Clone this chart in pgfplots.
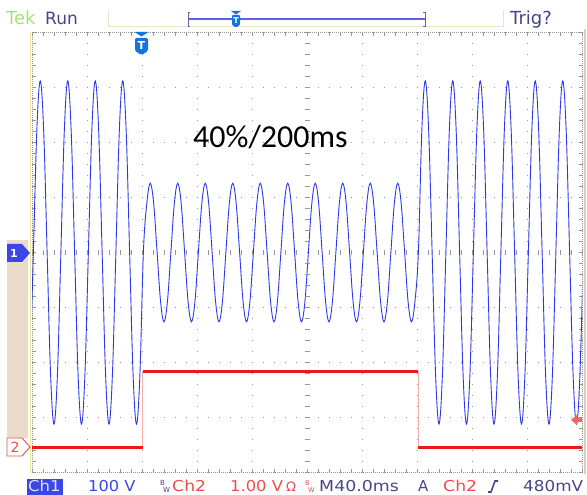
\documentclass[border=0pt]{standalone}
\usepackage{fontspec}
\setmainfont{DejaVu Sans}
\newfontfamily\carlito{Carlito}
\usepackage{pgfplots}
\pgfplotsset{compat=1.18}
\usepackage{pgfplotstable}
\definecolor{tekgreen}{RGB}{165,228,110}
\definecolor{tekslate}{RGB}{70,70,135}
\definecolor{trace1}{RGB}{45,55,235}
\definecolor{trace2}{RGB}{235,25,25}
\definecolor{ch2red}{RGB}{240,75,75}
\definecolor{ch1blue}{RGB}{60,70,230}
\definecolor{tekbeige}{RGB}{238,228,200}
\definecolor{tektan}{RGB}{235,220,202}
\definecolor{markblue}{RGB}{20,115,225}
\definecolor{gridgray}{RGB}{150,150,150}
\definecolor{barblue}{RGB}{95,95,225}

\pgfplotstableread{
t v
-1.5 -221
1 0
3.5 221
6 312
8.5 221
11 0
13.5 -221
16 -312
18.5 -221
21 0
23.5 221
26 312
28.5 221
31 0
33.5 -221
36 -312
38.5 -221
41 0
43.5 221
46 312
48.5 221
51 0
53.5 -221
56 -312
58.5 -221
61 0
63.5 221
66 312
68.5 221
71 0
73.5 -221
76 -312
78.5 -221
81 0
83.5 89
86 126
88.5 89
91 0
93.5 -89
96 -126
98.5 -89
101 0
103.5 89
106 126
108.5 89
111 0
113.5 -89
116 -126
118.5 -89
121 0
123.5 89
126 126
128.5 89
131 0
133.5 -89
136 -126
138.5 -89
141 0
143.5 89
146 126
148.5 89
151 0
153.5 -89
156 -126
158.5 -89
161 0
163.5 89
166 126
168.5 89
171 0
173.5 -89
176 -126
178.5 -89
181 0
183.5 89
186 126
188.5 89
191 0
193.5 -89
196 -126
198.5 -89
201 0
203.5 89
206 126
208.5 89
211 0
213.5 -89
216 -126
218.5 -89
221 0
223.5 89
226 126
228.5 89
231 0
233.5 -89
236 -126
238.5 -89
241 0
243.5 89
246 126
248.5 89
251 0
253.5 -89
256 -126
258.5 -89
261 0
263.5 89
266 126
268.5 89
271 0
273.5 -89
276 -126
278.5 -89
281 0
283.5 221
286 312
288.5 221
291 0
293.5 -221
296 -312
298.5 -221
301 0
303.5 221
306 312
308.5 221
311 0
313.5 -221
316 -312
318.5 -221
321 0
323.5 221
326 312
328.5 221
331 0
333.5 -221
336 -312
338.5 -221
341 0
343.5 221
346 312
348.5 221
351 0
353.5 -221
356 -312
358.5 -221
361 0
363.5 221
366 312
368.5 221
371 0
373.5 -221
376 -312
378.5 -221
381 0
383.5 221
386 312
388.5 221
391 0
393.5 -221
396 -312
398.5 -221
401 0
}\chone

\begin{document}
\begin{tikzpicture}[x=1pt,y=1pt]
\path[use as bounding box] (0,0) rectangle (587,495);

% ---------- main graticule and traces ----------
\begin{axis}[
  at={(32pt,22.5pt)}, anchor=south west, scale only axis,
  width=550pt, height=440pt,
  xmin=0, xmax=400, ymin=-400, ymax=400,
  xtick={0,40,...,400}, ytick={-400,-300,...,400},
  minor x tick num=4, minor y tick num=4,
  xticklabels={}, yticklabels={},
  tick align=inside, major tick length=3.5pt, minor tick length=3.5pt,
  every tick/.style={gridgray, line width=0.6pt},
  grid=major,
  major grid style={gridgray, line width=1pt, dash pattern=on 1pt off 10pt, dash phase=0.5pt},
  axis line style={gridgray, dash pattern=on 1pt off 1pt},
]
\addplot[trace1, line width=0.9pt, smooth, tension=0.6, no markers] table[x=t,y=v] {\chone};
\addplot[trace2!35, line width=0.7pt, no markers] coordinates {(80.6,-354) (80.6,-216)};
\addplot[trace2!35, line width=0.7pt, no markers] coordinates {(281,-216) (281,-354)};
\addplot[trace2, line width=3pt, no markers] coordinates {(0,-354) (80.6,-354)};
\addplot[trace2, line width=3pt, no markers] coordinates {(80.6,-216) (281,-216)};
\addplot[trace2, line width=3pt, no markers] coordinates {(281,-354) (400,-354)};
\end{axis}

% ---------- centre crosshair ticks ----------
\begin{axis}[
  at={(32pt,22.5pt)}, anchor=south west, scale only axis,
  width=550pt, height=440pt,
  xmin=-200, xmax=200, ymin=-400, ymax=400,
  axis lines=middle, axis line style={draw=none, -},
  xtick={-200,-160,...,200}, ytick={-400,-300,...,400},
  minor x tick num=4, minor y tick num=4,
  xticklabels={}, yticklabels={},
  tick align=center, major tick length=5pt, minor tick length=5pt,
  every tick/.style={gridgray, line width=0.6pt},
]
\end{axis}

% ---------- frame borders ----------
\draw[tekbeige!80!yellow, line width=1pt] (30.5,22) -- (30.5,463);
\draw[tektan!85!gray, line width=2pt] (584.5,21) -- (584.5,466);

% ---------- top bar ----------
\node[anchor=base west, inner sep=0, text=tekgreen, font=\fontsize{18}{18}\selectfont] at (6,470) {Tek};
\node[anchor=base west, inner sep=0, text=tekslate, font=\fontsize{17}{17}\selectfont] at (45,470) {Run};
\draw[tekbeige, line width=1pt] (108,485) -- (108,468) -- (503,468) -- (503,485);
\draw[barblue, line width=1.3pt] (188,476) -- (425,476);
\draw[gray!80!blue, line width=0.8pt] (190,483) -- (188,483) -- (188,469) -- (190,469);
\draw[gray!80!blue, line width=0.8pt] (423,483) -- (425,483) -- (425,469) -- (423,469);
\fill[markblue] (231,484) -- (241,484) -- (236,480.5) -- cycle;
\fill[markblue, rounded corners=1pt] (232,480) -- (240,480) -- (240,470) -- (236,467.5) -- (232,470) -- cycle;
\node[text=white, inner sep=0, font=\bfseries\fontsize{8}{8}\selectfont] at (236,474) {T};
\node[anchor=base west, inner sep=0, text=tekslate, font=\fontsize{18}{18}\selectfont] at (510,470) {Trig?};

% ---------- trigger position marker ----------
\fill[markblue] (134.5,463) -- (148.5,463) -- (141.5,458.5) -- cycle;
\fill[markblue, rounded corners=1.5pt] (135,457) -- (148,457) -- (148,444) -- (141.5,440) -- (135,444) -- cycle;
\node[text=white, inner sep=0, font=\bfseries\fontsize{11}{11}\selectfont] at (141.5,449.5) {T};

% ---------- channel markers ----------
\fill[tektan] (7,57) rectangle (28,255);
\fill[ch1blue] (7,251) -- (22,251) -- (30,242) -- (22,233) -- (7,233) -- cycle;
\node[text=white, inner sep=0, font=\bfseries\fontsize{11}{11}\selectfont] at (14,242) {1};
\filldraw[fill=white, draw=ch2red, line width=0.9pt] (7,57) -- (22,57) -- (30,48) -- (22,39) -- (7,39) -- cycle;
\node[text=ch2red, inner sep=0, font=\fontsize{14}{14}\selectfont] at (15,48) {2};

% ---------- trigger level arrow ----------
\fill[ch2red!85] (571,75) -- (577,80) -- (577,77) -- (582,77) -- (582,73) -- (577,73) -- (577,70) -- cycle;

% ---------- annotation ----------
\node[anchor=base west, inner sep=0, font=\carlito\fontsize{32}{32}\selectfont] at (193,347) {40\%/200ms};

% ---------- bottom bar ----------
\fill[ch1blue] (27,0) rectangle (63,16);
\node[anchor=base west, inner sep=0, text=white!88!blue, xscale=1.1, font=\fontsize{15}{15}\selectfont] at (28,3) {Ch1};
\node[anchor=base west, inner sep=0, text=ch1blue, xscale=1.08, font=\fontsize{15}{15}\selectfont] at (88,3) {100 V};
\node[anchor=base west, inner sep=0, text=tekslate, font=\fontsize{7}{7}\selectfont] at (160,9) {B};
\node[anchor=base west, inner sep=0, text=tekslate, font=\fontsize{7}{7}\selectfont] at (163,2) {W};
\node[anchor=base west, inner sep=0, text=ch2red, xscale=1.15, font=\fontsize{15}{15}\selectfont] at (172,3) {Ch2};
\node[anchor=base west, inner sep=0, text=ch2red, xscale=1.09, font=\fontsize{15}{15}\selectfont] at (230,3) {1.00 V};
\node[anchor=base west, inner sep=0, text=ch2red, font=\fontsize{13}{13}\selectfont] at (286,3) {Ω};
\node[anchor=base west, inner sep=0, text=ch2red, font=\fontsize{6.5}{6.5}\selectfont] at (305,9) {B};
\node[anchor=base west, inner sep=0, text=ch2red, font=\fontsize{6.5}{6.5}\selectfont] at (308,2) {W};
\node[anchor=base west, inner sep=0, text=tekslate, xscale=1.16, font=\fontsize{15}{15}\selectfont] at (319,3) {M40.0ms};
\node[anchor=base west, inner sep=0, text=tekslate, font=\fontsize{15}{15}\selectfont] at (418,3) {A};
\node[anchor=base west, inner sep=0, text=ch2red, xscale=1.15, font=\fontsize{15}{15}\selectfont] at (443,3) {Ch2};
\draw[tekslate, line width=1.6pt] (488,3) -- (491,3) -- (495,14) -- (498,14);
\node[anchor=base west, inner sep=0, text=tekslate, xscale=1.12, font=\fontsize{15}{15}\selectfont] at (523,3) {480mV};
\end{tikzpicture}
\end{document}
